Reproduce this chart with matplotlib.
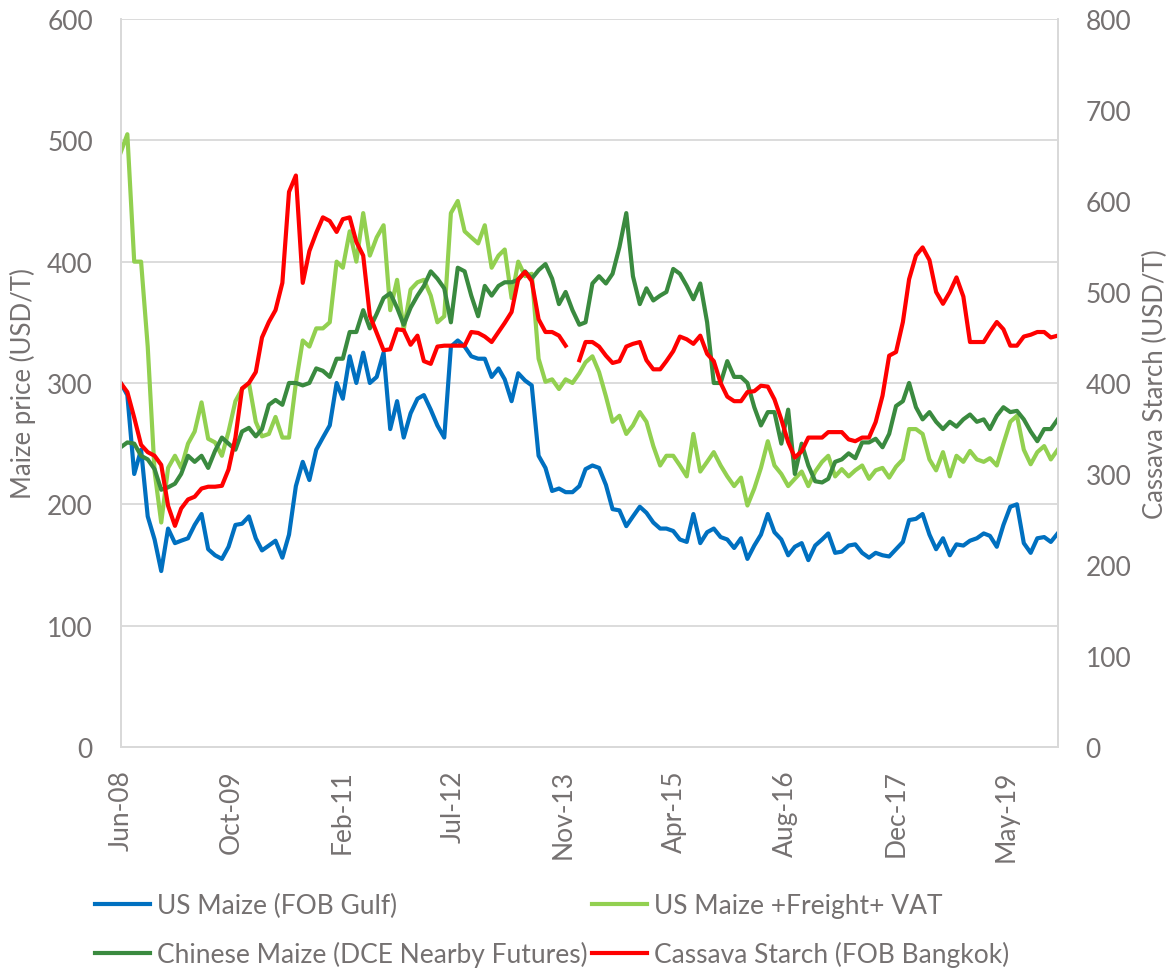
import numpy as np
import pandas as pd
import matplotlib
matplotlib.use('Agg')
import matplotlib.pyplot as plt
import matplotlib.dates as mdates

plt.rcParams['font.family'] = ['Lato', 'DejaVu Sans']

# monthly readings, Jun-2008 .. Jan-2020
dates = pd.date_range('2008-06-01', periods=140, freq='MS')

us_fob = [300, 290, 225, 245, 190, 171, 145, 180, 168, 170, 172, 183, 192, 163, 158, 155, 165, 183, 184, 190,
          172, 162, 166, 170, 156, 175, 215, 235, 220, 245, 255, 265, 300, 287, 322, 300, 325, 300, 305, 325,
          262, 285, 255, 275, 287, 290, 278, 265, 255, 330, 335, 330, 322, 320, 320, 305, 312, 303, 285, 308,
          302, 298, 240, 230, 211, 213, 210, 210, 215, 229, 232, 230, 216, 196, 195, 182, 190, 198, 193, 185,
          180, 180, 178, 171, 169, 192, 168, 177, 180, 173, 171, 164, 172, 155, 166, 175, 192, 177, 171, 158,
          165, 168, 154, 166, 171, 176, 160, 161, 166, 167, 160, 156, 160, 158, 157, 163, 169, 187, 188, 192,
          175, 163, 172, 158, 167, 166, 170, 172, 176, 174, 165, 183, 198, 200, 168, 160, 172, 173, 169, 176]

us_freight_vat = [490, 505, 400, 400, 330, 227, 185, 230, 240, 230, 250, 260, 284, 254, 251, 240, 260, 285, 295, 300,
                  268, 256, 258, 272, 255, 255, 300, 335, 330, 345, 345, 350, 400, 395, 425, 400, 440, 405, 420, 430,
                  360, 385, 344, 377, 383, 385, 372, 350, 355, 440, 450, 425, 420, 415, 430, 395, 405, 410, 370, 400,
                  388, 390, 320, 301, 303, 295, 303, 300, 308, 317, 322, 309, 289, 268, 273, 258, 265, 276, 268, 248,
                  232, 240, 240, 232, 223, 258, 227, 235, 243, 232, 223, 215, 222, 199, 213, 230, 252, 232, 225, 215,
                  221, 227, 215, 227, 235, 240, 223, 229, 223, 228, 232, 221, 228, 230, 222, 231, 237, 262, 262, 258,
                  237, 228, 243, 223, 240, 235, 244, 237, 235, 238, 232, 250, 268, 273, 245, 233, 243, 248, 237, 245]

china_dce = [247, 251, 250, 240, 237, 229, 212, 214, 217, 225, 240, 235, 240, 230, 244, 255, 250, 245, 260, 263,
             256, 262, 282, 286, 282, 300, 300, 298, 300, 312, 310, 305, 320, 320, 342, 342, 360, 345, 357, 370,
             374, 362, 348, 362, 372, 380, 392, 386, 378, 350, 395, 392, 372, 355, 380, 372, 380, 383, 383, 385,
             392, 386, 393, 398, 386, 365, 375, 360, 348, 350, 382, 388, 382, 390, 412, 440, 388, 365, 378, 368,
             372, 375, 394, 390, 380, 369, 382, 350, 300, 300, 318, 305, 305, 300, 280, 265, 276, 276, 250, 278,
             225, 250, 232, 219, 218, 221, 235, 237, 242, 238, 251, 251, 254, 247, 258, 281, 285, 300, 280, 270,
             276, 268, 262, 268, 264, 270, 274, 268, 270, 262, 273, 280, 276, 277, 270, 260, 252, 262, 262, 270]

cassava = [400, 390, 362, 332, 324, 320, 310, 265, 243, 262, 272, 275, 284, 286, 286, 287, 305, 340, 394, 400,
           412, 450, 467, 480, 510, 610, 628, 510, 545, 565, 582, 578, 566, 580, 582, 555, 540, 474, 455, 436,
           437, 459, 458, 442, 452, 424, 421, 440, 441, 441, 441, 441, 456, 455, 451, 445, 456, 466, 478, 514,
           522, 512, 470, 456, 456, 452, 441, np.nan, 425, 445, 445, 440, 430, 422, 424, 440, 443, 445, 425, 415,
           415, 424, 435, 451, 448, 443, 452, 432, 424, 400, 385, 380, 380, 390, 391, 397, 396, 382, 360, 335,
           318, 325, 340, 340, 340, 346, 346, 346, 338, 336, 340, 340, 357, 386, 430, 434, 467, 514, 540, 549,
           535, 500, 487, 500, 516, 495, 445, 445, 445, 456, 467, 459, 441, 441, 451, 453, 456, 456, 450, 452]

labels = ['US Maize (FOB Gulf)', 'US Maize +Freight+ VAT',
          'Chinese Maize (DCE Nearby Futures)', 'Cassava Starch (FOB Bangkok)']
colors = ['#0070C0', '#92D050', '#3A8A3F', '#FF0000']
text_col = '#757171'
grid_col = '#D9D9D9'

fig = plt.figure(figsize=(11.73, 9.70), dpi=100)
ax = fig.add_axes([0.1029, 0.2289, 0.7988, 0.7505])
ax2 = ax.twinx()

l1, = ax.plot(dates, us_fob, color=colors[0], lw=3)
l2, = ax.plot(dates, us_freight_vat, color=colors[1], lw=3)
l3, = ax.plot(dates, china_dce, color=colors[2], lw=3)
l4, = ax2.plot(dates, cassava, color=colors[3], lw=3)

ax.set_ylim(0, 600)
ax.set_yticks(range(0, 601, 100))
ax2.set_ylim(0, 800)
ax2.set_yticks(range(0, 801, 100))
ax.set_xlim(dates[0], dates[-1])

start = dates[0]
ticks = [start + pd.Timedelta(days=500 * k) for k in range(9)]
ax.set_xticks(ticks)
ax.xaxis.set_major_formatter(mdates.DateFormatter('%b-%y'))

ax.grid(axis='y', color=grid_col, lw=1.3)
ax.set_axisbelow(True)
for a in (ax, ax2):
    for s in a.spines.values():
        s.set_color(grid_col)
        s.set_linewidth(1.3)
    a.spines['top'].set_visible(False)
    a.tick_params(length=0, labelsize=19, labelcolor=text_col)

ax.tick_params(axis='y', pad=20)
ax2.tick_params(axis='y', pad=20)
ax.tick_params(axis='x', pad=16, labelrotation=90)

ax.set_ylabel('Maize price (USD/T)', fontsize=18.5, color=text_col, labelpad=8)
ax2.set_ylabel('Cassava Starch (USD/T)', fontsize=18.5, color=text_col, labelpad=8)

fig.legend([l1, l3, l2, l4], [labels[0], labels[2], labels[1], labels[3]],
           ncol=2, loc='upper left', bbox_to_anchor=(0.081, 0.078),
           frameon=False, fontsize=19, labelcolor=text_col,
           handlelength=2.1, handletextpad=0.25, columnspacing=0.15,
           labelspacing=0.85, borderpad=0, borderaxespad=0)

fig.savefig('out.png', dpi=100)
